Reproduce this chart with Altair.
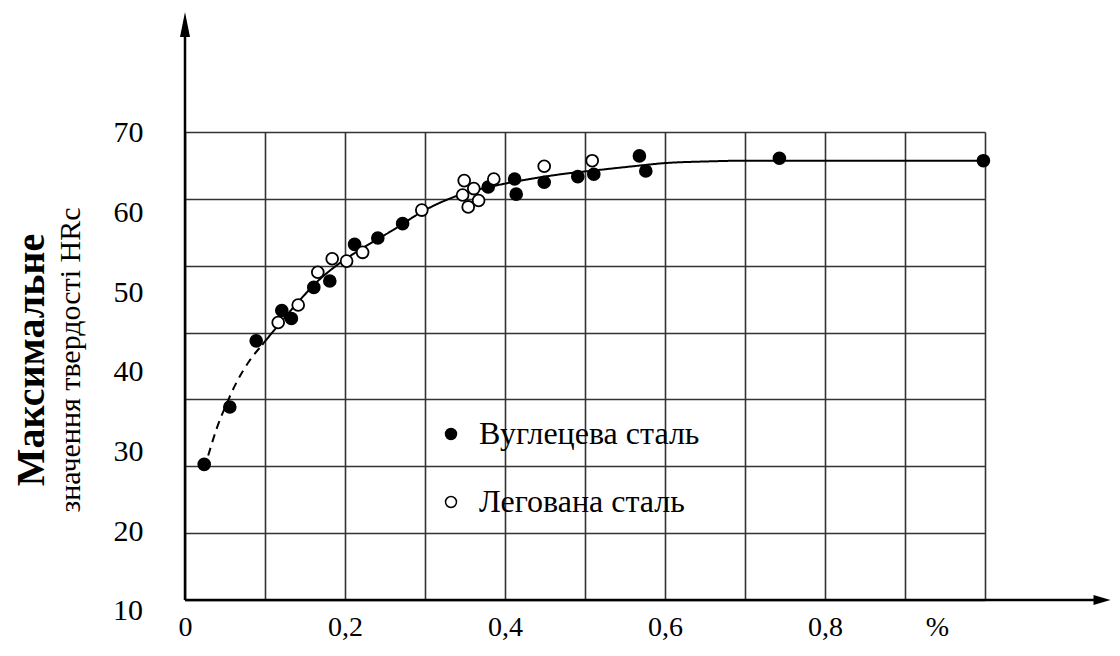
import numpy as np
import pandas as pd
import altair as alt

# ---------------- data ----------------
carbon_x = [0.024, 0.056, 0.089, 0.121, 0.133, 0.161, 0.181, 0.212, 0.241, 0.272,
            0.379, 0.412, 0.414, 0.449, 0.491, 0.511, 0.568, 0.576, 0.743, 0.998]
carbon_y = [28.4, 35.6, 43.9, 47.7, 46.7, 50.6, 51.4, 56.0, 56.8, 58.6,
            63.2, 64.2, 62.3, 63.8, 64.5, 64.8, 67.1, 65.2, 66.8, 66.5]

alloy_x = [0.1165, 0.1415, 0.166, 0.184, 0.202, 0.222, 0.296, 0.349, 0.347, 0.361,
           0.354, 0.367, 0.386, 0.449, 0.509]
alloy_y = [46.2, 48.4, 52.5, 54.2, 53.9, 55.0, 60.3, 64.0, 62.2, 63.0,
           60.7, 61.5, 64.2, 65.8, 66.5]

dash_x = [0.029, 0.040, 0.052, 0.065, 0.080, 0.0965]
dash_y = [29.5, 33.0, 36.0, 38.8, 41.3, 43.4]

solid_x = [0.0965, 0.117, 0.14, 0.165, 0.19, 0.215, 0.26, 0.30, 0.343, 0.385,
           0.431, 0.47, 0.514, 0.56, 0.60, 0.65, 0.70, 0.80, 1.0]
solid_y = [43.4, 45.9, 48.6, 51.3, 53.4, 55.1, 57.8, 60.3, 62.2, 63.3,
           64.2, 64.8, 65.3, 65.8, 66.2, 66.4, 66.5, 66.5, 66.5]

series_names = ["Вуглецева сталь", "Легована сталь"]

x_tick_values = [0, 0.2, 0.4, 0.6, 0.8, 0.94]
x_tick_labels = ["0", "0,2", "0,4", "0,6", "0,8", "%"]
y_tick_values = [10, 20, 30, 40, 50, 60, 70]

title_main = "Максимальне"
title_sub = "значення твердості HRс"

# ---------------- layout / styling ----------------
W, H = 800, 468
X_DOM = [0, 1]
Y_DOM = [11.38, 70.1]
x_grid = [round(v, 2) for v in np.arange(0, 1.0001, 0.1)]
y_grid = list(np.linspace(Y_DOM[0], Y_DOM[1], 8))

FONT = "Liberation Serif"
LABEL_SIZE = 30
Y_LABEL_PAD = 42

xs = alt.Scale(domain=X_DOM, nice=False, zero=False)
ys = alt.Scale(domain=Y_DOM, nice=False, zero=False)

pts = pd.DataFrame({
    "x": carbon_x + alloy_x,
    "y": carbon_y + alloy_y,
    "type": [series_names[0]] * len(carbon_x) + [series_names[1]] * len(alloy_x),
})

curve = pd.DataFrame({
    "x": dash_x + solid_x,
    "y": dash_y + solid_y,
    "seg": ["dashed"] * len(dash_x) + ["solid"] * len(solid_x),
})

label_expr = "''"
for v, l in reversed(list(zip(x_tick_values, x_tick_labels))):
    label_expr = f"abs(datum.value - {v}) < 0.001 ? '{l}' : ({label_expr})"

grid_axis_x = alt.Axis(orient="top", values=x_grid, grid=True, labels=False, ticks=False,
                       domain=False, title=None, gridColor="#333333", gridWidth=1.6,
                       gridOpacity=1)
grid_axis_y = alt.Axis(orient="right", values=y_grid, grid=True, labels=False, ticks=False,
                       domain=False, title=None, gridColor="#333333", gridWidth=1.6,
                       gridOpacity=1)

line = alt.Chart(curve).mark_line(color="black", strokeWidth=2, interpolate="monotone").encode(
    x=alt.X("x:Q", scale=xs, axis=grid_axis_x),
    y=alt.Y("y:Q", scale=ys, axis=grid_axis_y),
    detail="seg:N",
    strokeDash=alt.StrokeDash("seg:N", scale=alt.Scale(domain=["dashed", "solid"],
                                                       range=[[8, 6], [1, 0]]), legend=None),
)

points = alt.Chart(pts).mark_point(filled=True, size=140, stroke="black", strokeWidth=1.8,
                                   opacity=1, shape="circle").encode(
    x=alt.X("x:Q", scale=xs, axis=alt.Axis(orient="bottom", values=x_tick_values,
                                            labelExpr=label_expr, grid=False, ticks=False,
                                            domain=False, title=None, labelFont=FONT,
                                            labelFontSize=28, labelColor="black",
                                            labelPadding=13, labelFlush=False,
                                            labelOverlap=False, labelBound=False)),
    y=alt.Y("y:Q", scale=ys, axis=alt.Axis(orient="left", values=y_tick_values, format="d",
                                            grid=False, ticks=False, domain=False, title=None,
                                            labelFont=FONT, labelFontSize=LABEL_SIZE,
                                            labelColor="black", labelPadding=Y_LABEL_PAD,
                                            labelOverlap=False, labelBound=False,
                                            labelFlush=False)),
    fill=alt.Fill("type:N", scale=alt.Scale(domain=series_names, range=["black", "white"]),
                  legend=alt.Legend(title=None, orient="none", legendX=250, legendY=286,
                                    symbolType="circle", symbolSize=120,
                                    symbolStrokeColor="black", symbolStrokeWidth=1.5,
                                    labelFont=FONT, labelFontSize=32, labelColor="black",
                                    labelOffset=12, rowPadding=36, labelLimit=400)),
)

# the lowest y label lies just below the plotted range, so it is drawn through the y scale
low_label = alt.Chart(pd.DataFrame({"y": [y_tick_values[0]],
                                    "t": [str(y_tick_values[0])]})).mark_text(
    font=FONT, fontSize=LABEL_SIZE, color="black", align="right", baseline="middle",
    clip=False).encode(
    y=alt.Y("y:Q", scale=ys, axis=None), x=alt.value(-Y_LABEL_PAD), text="t:N")

one = pd.DataFrame({"k": [0]})

y_axis_line = alt.Chart(one).mark_rule(color="black", strokeWidth=2.5).encode(
    x=alt.value(0), y=alt.value(H), y2=alt.value(-95))
y_arrow = alt.Chart(one).mark_point(shape="M0,-1L0.4,1L-0.4,1Z", filled=True, color="black",
                                    size=625, opacity=1).encode(
    x=alt.value(0), y=alt.value(-107.5))
x_axis_line = alt.Chart(one).mark_rule(color="black", strokeWidth=2.5).encode(
    x=alt.value(0), x2=alt.value(910), y=alt.value(H))
x_arrow = alt.Chart(one).mark_point(shape="M1,0L-1,-0.6L-1,0.6Z", filled=True, color="black",
                                    size=289, opacity=1).encode(
    x=alt.value(917), y=alt.value(H))

t_main = alt.Chart(pd.DataFrame({"t": [title_main]})).mark_text(
    angle=270, font=FONT, fontSize=40, fontWeight="bold", color="black",
    align="center", baseline="middle").encode(
    text="t:N", x=alt.value(-153), y=alt.value(228))
t_sub = alt.Chart(pd.DataFrame({"t": [title_sub]})).mark_text(
    angle=270, font=FONT, fontSize=30, color="black",
    align="center", baseline="middle").encode(
    text="t:N", x=alt.value(-114), y=alt.value(228))

chart = alt.layer(line, points, low_label, y_axis_line, y_arrow, x_axis_line, x_arrow,
                  t_main, t_sub).resolve_axis(
    x="independent", y="independent"
).properties(
    width=W, height=H,
    autosize=alt.AutoSizeParams(type="none"),
    padding={"left": 177, "top": 124, "right": 127, "bottom": 48},
    background="white",
).configure_view(stroke=None)

chart.save("out.html", embed_options={"renderer": "svg", "actions": False})
